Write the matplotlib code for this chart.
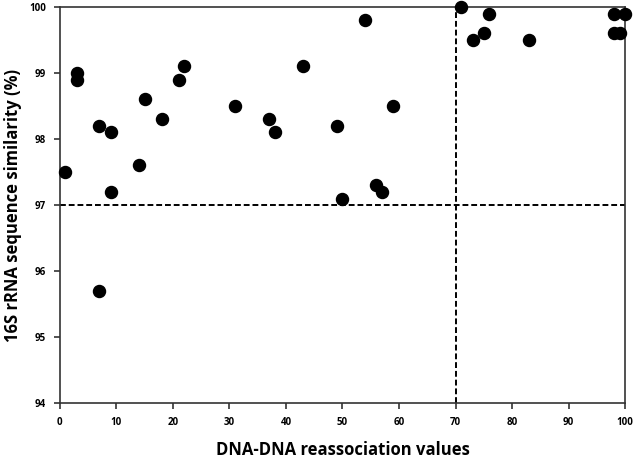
import numpy as np
import matplotlib.pyplot as plt

# DNA-DNA reassociation (%) vs 16S rRNA similarity (%)
ddh = [1, 3, 3, 7, 7, 9, 9, 14, 15, 18, 21, 22, 31, 37, 38, 43,
       49, 50, 54, 56, 57, 59, 71, 73, 75, 76, 83, 98, 98, 99, 100]
sim16s = [97.5, 99.0, 98.9, 98.2, 95.7, 98.1, 97.2, 97.6, 98.6, 98.3, 98.9, 99.1,
          98.5, 98.3, 98.1, 99.1, 98.2, 97.1, 99.8, 97.3, 97.2, 98.5,
          100.0, 99.5, 99.6, 99.9, 99.5, 99.9, 99.6, 99.6, 99.9]
ddh_cutoff = 70
sim_cutoff = 97

plt.rcParams['font.family'] = ['Open Sans', 'DejaVu Sans']

fig = plt.figure(figsize=(6.36, 4.61), dpi=100)
ax = fig.add_axes([0.094, 0.125, 0.889, 0.86])

ax.scatter(ddh, sim16s, s=75, c='black', zorder=5, clip_on=False)
ax.plot([0, 100], [sim_cutoff, sim_cutoff], 'k--', lw=1.4, dashes=(3, 1.5))
ax.plot([ddh_cutoff, ddh_cutoff], [94, 100], 'k--', lw=1.4, dashes=(3, 1.5))

ax.set_xlim(0, 100)
ax.set_ylim(94, 100)
ax.set_xticks(np.arange(0, 101, 10))
ax.set_yticks(np.arange(94, 101, 1))
for s in ax.spines.values():
    s.set_color('#333333')
    s.set_linewidth(1.2)
ax.tick_params(direction='out', length=4, width=1.2, color='#333333',
               labelsize=7, pad=6)
for lab in ax.get_xticklabels() + ax.get_yticklabels():
    lab.set_fontweight('bold')

ax.set_xlabel('DNA-DNA reassociation values', fontsize=12, fontweight='bold', labelpad=9)
ax.set_ylabel('16S rRNA sequence similarity (%)', fontsize=12, fontweight='bold', labelpad=5)

fig.savefig('out.png', dpi=100)
